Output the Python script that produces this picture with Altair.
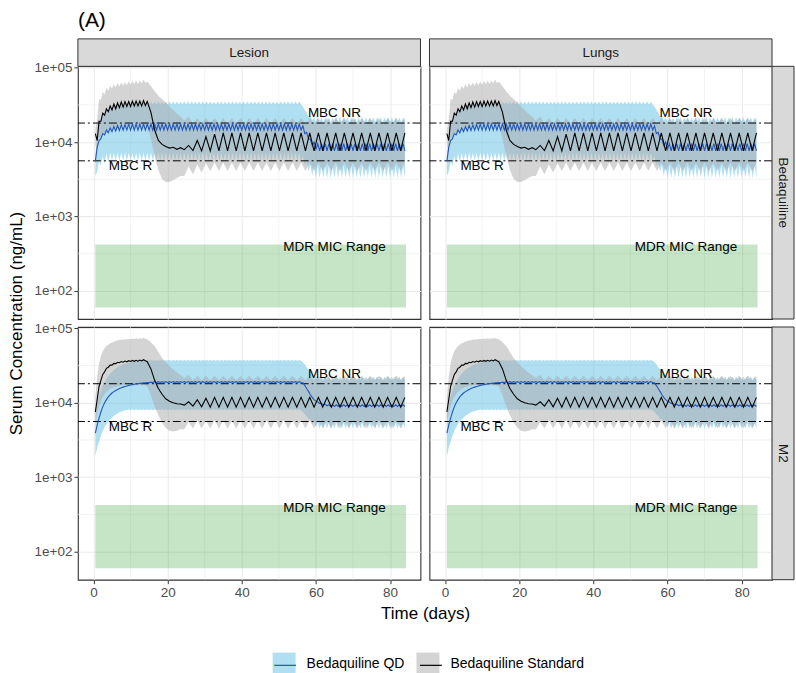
import altair as alt
import pandas as pd

FONT = "Liberation Sans"
REGIMENS = ["Bedaquiline QD", "Bedaquiline Standard"]
LINE_KEYS = ["Bedaquiline QD ", "Bedaquiline Standard "]
COLUMNS = ["Lesion", "Lungs"]
ROWS = ["Bedaquiline", "M2"]

X_TICKS = [0, 20, 40, 60, 80]
X_MINOR = [10, 30, 50, 70]
Y_TICKS = [100, 1000, 10000, 100000]
Y_MINOR = [316.2, 3162, 31623]

MBC_VALUES = [18000, 5600]
ANNOT_LABELS = ["MBC NR", "MBC R", "MDR MIC Range"]
ANNOT_X = [65, 10, 65]
ANNOT_Y = [24600, 4700, 390]
MIC_X = [0.5, 84.3]
MIC_Y = [60, 422]

# ---------------- QD regimen (daily dosing): per-day peak (day-0.5) and trough (day) ----------------
QD_DAYS = list(range(1, 85))

TOP_QD_MED_PK = [
    5500, 10500, 13000, 14500, 15500, 16200, 16700, 17000, 17200, 17400, 17500, 17500, 17500, 17500,
    17500, 17500, 17500, 17500, 17500, 17500, 17500, 17500, 17500, 17500, 17500, 17500, 17500, 17500,
    17500, 17500, 17500, 17500, 17500, 17500, 17500, 17500, 17500, 17500, 17500, 17500, 17500, 17500,
    17500, 17500, 17500, 17500, 17500, 17500, 17500, 17500, 17500, 17500, 17500, 17500, 17500, 17500,
    16500, 13500, 11000, 10000, 9500, 9500, 9500, 9500, 9500, 9500, 9500, 9500, 9500, 9500,
    9500, 9500, 9500, 9500, 9500, 9500, 9500, 9500, 9500, 9500, 9500, 9500, 9500, 9500,
]
TOP_QD_MED_TR = [
    8500, 11000, 12500, 13300, 13800, 14100, 14300, 14400, 14500, 14500, 14500, 14500, 14500, 14500,
    14500, 14500, 14500, 14500, 14500, 14500, 14500, 14500, 14500, 14500, 14500, 14500, 14500, 14500,
    14500, 14500, 14500, 14500, 14500, 14500, 14500, 14500, 14500, 14500, 14500, 14500, 14500, 14500,
    14500, 14500, 14500, 14500, 14500, 14500, 14500, 14500, 14500, 14500, 14500, 14500, 14500, 14500,
    13000, 11000, 9000, 8000, 7600, 7600, 7600, 7600, 7600, 7600, 7600, 7600, 7600, 7600,
    7600, 7600, 7600, 7600, 7600, 7600, 7600, 7600, 7600, 7600, 7600, 7600, 7600, 7600,
]
TOP_QD_HI_PK = [
    7000, 20000, 25000, 28000, 30000, 32000, 33500, 34500, 35000, 35000, 35000, 35000, 35000, 35000,
    35000, 35000, 35000, 35000, 35000, 35000, 35000, 35000, 35000, 35000, 35000, 35000, 35000, 35000,
    35000, 35000, 35000, 35000, 35000, 35000, 35000, 35000, 35000, 35000, 35000, 35000, 35000, 35000,
    35000, 35000, 35000, 35000, 35000, 35000, 35000, 35000, 35000, 35000, 35000, 35000, 35000, 35000,
    30000, 25000, 22500, 21500, 21500, 21500, 21500, 21500, 21500, 21500, 21500, 21500, 21500, 21500,
    21500, 21500, 21500, 21500, 21500, 21500, 21500, 21500, 21500, 21500, 21500, 21500, 21500, 21500,
]
TOP_QD_HI_TR = [
    11000, 19000, 23500, 26500, 28500, 30000, 31000, 31500, 32000, 32000, 32000, 32000, 32000, 32000,
    32000, 32000, 32000, 32000, 32000, 32000, 32000, 32000, 32000, 32000, 32000, 32000, 32000, 32000,
    32000, 32000, 32000, 32000, 32000, 32000, 32000, 32000, 32000, 32000, 32000, 32000, 32000, 32000,
    32000, 32000, 32000, 32000, 32000, 32000, 32000, 32000, 32000, 32000, 32000, 32000, 32000, 32000,
    27000, 22000, 19500, 18500, 18500, 18500, 18500, 18500, 18500, 18500, 18500, 18500, 18500, 18500,
    18500, 18500, 18500, 18500, 18500, 18500, 18500, 18500, 18500, 18500, 18500, 18500, 18500, 18500,
]
TOP_QD_LO_PK = [
    3500, 5500, 6500, 7000, 7200, 7200, 7200, 7200, 7200, 7200, 7200, 7200, 7200, 7200,
    7200, 7200, 7200, 7200, 7200, 7200, 7200, 7200, 7200, 7200, 7200, 7200, 7200, 7200,
    7200, 7200, 7200, 7200, 7200, 7200, 7200, 7200, 7200, 7200, 7200, 7200, 7200, 7200,
    7200, 7200, 7200, 7200, 7200, 7200, 7200, 7200, 7200, 7200, 7200, 7200, 7200, 7200,
    6500, 5500, 5000, 4800, 4800, 4800, 4800, 4800, 4800, 4800, 4800, 4800, 4800, 4800,
    4800, 4800, 4800, 4800, 4800, 4800, 4800, 4800, 4800, 4800, 4800, 4800, 4800, 4800,
]
TOP_QD_LO_TR = [
    4000, 4800, 5200, 5400, 5600, 5600, 5600, 5600, 5600, 5600, 5600, 5600, 5600, 5600,
    5600, 5600, 5600, 5600, 5600, 5600, 5600, 5600, 5600, 5600, 5600, 5600, 5600, 5600,
    5600, 5600, 5600, 5600, 5600, 5600, 5600, 5600, 5600, 5600, 5600, 5600, 5600, 5600,
    5600, 5600, 5600, 5600, 5600, 5600, 5600, 5600, 5600, 5600, 5600, 5600, 5600, 5600,
    4800, 4000, 3500, 3300, 3300, 3300, 3300, 3300, 3300, 3300, 3300, 3300, 3300, 3300,
    3300, 3300, 3300, 3300, 3300, 3300, 3300, 3300, 3300, 3300, 3300, 3300, 3300, 3300,
]

M2_QD_MED_PK = [
    3900, 6200, 8800, 11000, 12800, 14100, 15100, 15900, 16500, 17100, 17500, 17900, 18200, 18500,
    18700, 18900, 19200, 19200, 19200, 19200, 19200, 19200, 19200, 19200, 19200, 19200, 19200, 19200,
    19200, 19200, 19200, 19200, 19200, 19200, 19200, 19200, 19200, 19200, 19200, 19200, 19200, 19200,
    19200, 19200, 19200, 19200, 19200, 19200, 19200, 19200, 19200, 19200, 19200, 19200, 19200, 19200,
    18500, 15500, 12800, 11000, 10200, 9800, 9600, 9400, 9400, 9400, 9400, 9400, 9400, 9400,
    9400, 9400, 9400, 9400, 9400, 9400, 9400, 9400, 9400, 9400, 9400, 9400, 9400, 9400,
]
M2_QD_MED_TR = [
    5000, 7500, 10000, 12000, 13500, 14600, 15500, 16200, 16800, 17300, 17700, 18000, 18300, 18500,
    18600, 18700, 18700, 18700, 18700, 18700, 18700, 18700, 18700, 18700, 18700, 18700, 18700, 18700,
    18700, 18700, 18700, 18700, 18700, 18700, 18700, 18700, 18700, 18700, 18700, 18700, 18700, 18700,
    18700, 18700, 18700, 18700, 18700, 18700, 18700, 18700, 18700, 18700, 18700, 18700, 18700, 18700,
    17000, 14200, 11800, 10500, 9800, 9300, 9100, 8900, 8900, 8900, 8900, 8900, 8900, 8900,
    8900, 8900, 8900, 8900, 8900, 8900, 8900, 8900, 8900, 8900, 8900, 8900, 8900, 8900,
]
M2_QD_HI_PK = [
    7000, 12000, 17000, 21000, 24500, 27500, 30000, 32000, 33500, 34500, 35500, 36200, 36800, 37500,
    37500, 37500, 37500, 37500, 37500, 37500, 37500, 37500, 37500, 37500, 37500, 37500, 37500, 37500,
    37500, 37500, 37500, 37500, 37500, 37500, 37500, 37500, 37500, 37500, 37500, 37500, 37500, 37500,
    37500, 37500, 37500, 37500, 37500, 37500, 37500, 37500, 37500, 37500, 37500, 37500, 37500, 37500,
    35000, 30000, 26000, 23500, 22500, 22500, 22500, 22500, 22500, 22500, 22500, 22500, 22500, 22500,
    22500, 22500, 22500, 22500, 22500, 22500, 22500, 22500, 22500, 22500, 22500, 22500, 22500, 22500,
]
M2_QD_HI_TR = [
    9500, 14500, 19000, 23000, 26000, 29000, 31000, 33000, 34000, 35000, 35800, 36300, 36500, 36500,
    36500, 36500, 36500, 36500, 36500, 36500, 36500, 36500, 36500, 36500, 36500, 36500, 36500, 36500,
    36500, 36500, 36500, 36500, 36500, 36500, 36500, 36500, 36500, 36500, 36500, 36500, 36500, 36500,
    36500, 36500, 36500, 36500, 36500, 36500, 36500, 36500, 36500, 36500, 36500, 36500, 36500, 36500,
    33000, 28000, 24500, 22000, 20500, 20000, 20000, 20000, 20000, 20000, 20000, 20000, 20000, 20000,
    20000, 20000, 20000, 20000, 20000, 20000, 20000, 20000, 20000, 20000, 20000, 20000, 20000, 20000,
]
M2_QD_LO_PK = [
    1900, 3000, 4200, 5200, 6000, 6700, 7200, 7600, 7900, 8200, 8200, 8200, 8200, 8200,
    8200, 8200, 8200, 8200, 8200, 8200, 8200, 8200, 8200, 8200, 8200, 8200, 8200, 8200,
    8200, 8200, 8200, 8200, 8200, 8200, 8200, 8200, 8200, 8200, 8200, 8200, 8200, 8200,
    8200, 8200, 8200, 8200, 8200, 8200, 8200, 8200, 8200, 8200, 8200, 8200, 8200, 8200,
    7500, 6600, 6000, 5600, 5400, 5400, 5400, 5400, 5400, 5400, 5400, 5400, 5400, 5400,
    5400, 5400, 5400, 5400, 5400, 5400, 5400, 5400, 5400, 5400, 5400, 5400, 5400, 5400,
]
M2_QD_LO_TR = [
    2500, 3600, 4700, 5600, 6300, 6900, 7400, 7700, 7900, 7900, 7900, 7900, 7900, 7900,
    7900, 7900, 7900, 7900, 7900, 7900, 7900, 7900, 7900, 7900, 7900, 7900, 7900, 7900,
    7900, 7900, 7900, 7900, 7900, 7900, 7900, 7900, 7900, 7900, 7900, 7900, 7900, 7900,
    7900, 7900, 7900, 7900, 7900, 7900, 7900, 7900, 7900, 7900, 7900, 7900, 7900, 7900,
    7000, 6000, 5200, 4700, 4500, 4500, 4500, 4500, 4500, 4500, 4500, 4500, 4500, 4500,
    4500, 4500, 4500, 4500, 4500, 4500, 4500, 4500, 4500, 4500, 4500, 4500, 4500, 4500,
]

# ---------------- Standard regimen: loading (daily, days 0.5-14.5), wash-out, then three times weekly ----------------
STD_T = ([0.5 * i for i in range(1, 30)]
         + [15.5 + i for i in range(9)]
         + [24.5 + k * 7 / 6 for k in range(52)])

TOP_STD_MED = [
    13000, 10500, 19000, 19000, 24500, 23000, 28000, 25500, 30500, 27000, 32500, 28000, 33500, 29000, 34500,
    29500, 35000, 30000, 35000, 30000, 35500, 30500, 35500, 30500, 35500, 30500, 36000, 31000, 35000,
    25000, 14500, 10500, 9300, 8700, 8300, 8500, 8000, 8400,
    7900, 9000, 7700, 10500, 7600, 11800, 7600, 12800, 7600, 13300,
    7600, 13300, 7600, 13300, 7600, 13300, 7600, 13300, 7600, 13300, 7600, 13300, 7600, 13300,
    7600, 13300, 7600, 13300, 7600, 13300, 7600, 13300, 7600, 13300, 7600, 13300, 7600, 13300,
    7600, 13300, 7600, 13300, 7600, 13300, 7600, 13300, 7600, 13300, 7600, 13300, 7600, 13300,
]
TOP_STD_HI = [
    15000, 20000, 38000, 37000, 47000, 44000, 53000, 49000, 57000, 52000, 60000, 54000, 62000, 56000, 63000,
    57000, 64000, 58000, 65000, 59000, 66000, 60000, 67000, 60000, 67000, 61000, 69000, 62000, 65000,
    56000, 48000, 42000, 38000, 34000, 30000, 27000, 24000, 22000,
    19500, 22000,
    17500, 21000, 17500, 21000, 17500, 21000, 17500, 21000, 17500, 21000, 17500, 21000, 17500, 21000,
    17500, 21000, 17500, 21000, 17500, 21000, 17500, 21000, 17500, 21000, 17500, 21000, 17500, 21000,
    17500, 21000, 17500, 21000, 17500, 21000, 17500, 21000, 17500, 21000, 17500, 21000, 17500, 21000,
    17500, 21000, 17500, 21000, 17500, 21000, 17500, 21000,
]
TOP_STD_LO = [
    9000, 7500, 11500, 11000, 13500, 12500, 15000, 13500, 16000, 14500, 17000, 15000, 17500, 15500, 18000,
    15500, 18000, 16000, 18000, 16000, 18000, 16000, 18000, 16000, 18000, 16000, 18000, 16000, 17500,
    11000, 6500, 4200, 3200, 2900, 2900, 3100, 3300, 3500,
    3500, 4700, 3700, 5000, 3900, 5200,
    4100, 5300, 4100, 5300, 4100, 5300, 4100, 5300, 4100, 5300, 4100, 5300, 4100, 5300,
    4100, 5300, 4100, 5300, 4100, 5300, 4100, 5300, 4100, 5300, 4100, 5300, 4100, 5300,
    4100, 5300, 4100, 5300, 4100, 5300, 4100, 5300, 4100, 5300, 4100, 5300, 4100, 5300,
    4100, 5300, 4100, 5300,
]

M2_STD_MED = [
    7500, 11000, 16500, 20000, 24000, 26000, 29000, 30000, 32000, 32000, 33800, 33500, 35000, 34500, 35800,
    35000, 36300, 35500, 36700, 35800, 37000, 36000, 37200, 36200, 37400, 36400, 37800, 36600, 35500,
    28500, 20000, 15500, 13000, 11300, 10500, 10000, 9700, 9600,
    9300, 10300, 9000, 11000, 8800, 11500,
    8700, 11800, 8700, 11800, 8700, 11800, 8700, 11800, 8700, 11800, 8700, 11800, 8700, 11800,
    8700, 11800, 8700, 11800, 8700, 11800, 8700, 11800, 8700, 11800, 8700, 11800, 8700, 11800,
    8700, 11800, 8700, 11800, 8700, 11800, 8700, 11800, 8700, 11800, 8700, 11800, 8700, 11800,
    8700, 11800, 8700, 11800,
]
M2_STD_HI = [
    12000, 22000, 34000, 42000, 49000, 54000, 58000, 60000, 63000, 64000, 66500, 67000, 69000, 69000, 70500,
    70000, 71500, 71000, 72500, 71500, 73000, 72000, 73500, 72000, 73500, 72500, 74000, 72500, 71000,
    65000, 58000, 48000, 40000, 35000, 31000, 28000, 25500, 23500,
    21500, 23500,
    20000, 23000, 20000, 23000, 20000, 23000, 20000, 23000, 20000, 23000, 20000, 23000, 20000, 23000,
    20000, 23000, 20000, 23000, 20000, 23000, 20000, 23000, 20000, 23000, 20000, 23000, 20000, 23000,
    20000, 23000, 20000, 23000, 20000, 23000, 20000, 23000, 20000, 23000, 20000, 23000, 20000, 23000,
    20000, 23000, 20000, 23000, 20000, 23000, 20000, 23000,
]
M2_STD_LO = [
    5500, 7000, 9000, 10500, 12000, 13000, 14000, 14500, 15500, 15500, 16500, 16000, 17000, 16500, 17500,
    17000, 17500, 17000, 17500, 17000, 17500, 17000, 17500, 17000, 17500, 17000, 17500, 17000, 16500,
    12500, 9000, 6800, 5400, 4600, 4200, 4100, 4200, 4400,
    4400, 5500,
    4500, 5800, 4500, 5800, 4500, 5800, 4500, 5800, 4500, 5800, 4500, 5800, 4500, 5800,
    4500, 5800, 4500, 5800, 4500, 5800, 4500, 5800, 4500, 5800, 4500, 5800, 4500, 5800,
    4500, 5800, 4500, 5800, 4500, 5800, 4500, 5800, 4500, 5800, 4500, 5800, 4500, 5800,
    4500, 5800, 4500, 5800, 4500, 5800, 4500, 5800,
]

for lst in [TOP_QD_MED_PK, TOP_QD_MED_TR, TOP_QD_HI_PK, TOP_QD_HI_TR, TOP_QD_LO_PK, TOP_QD_LO_TR,
            M2_QD_MED_PK, M2_QD_MED_TR, M2_QD_HI_PK, M2_QD_HI_TR, M2_QD_LO_PK, M2_QD_LO_TR]:
    assert len(lst) == 84, len(lst)
for lst in [TOP_STD_MED, TOP_STD_HI, TOP_STD_LO, M2_STD_MED, M2_STD_HI, M2_STD_LO]:
    assert len(lst) == len(STD_T), (len(lst), len(STD_T))


def qd_frame(pk_med, tr_med, pk_lo, tr_lo, pk_hi, tr_hi):
    rows = []
    for i, d in enumerate(QD_DAYS):
        rows.append((d - 0.5, pk_med[i], pk_lo[i], pk_hi[i]))
        rows.append((float(d), tr_med[i], tr_lo[i], tr_hi[i]))
    df = pd.DataFrame(rows, columns=["t", "med", "lo", "hi"])
    df["regimen"] = REGIMENS[0]
    df["line"] = LINE_KEYS[0]
    return df


def std_frame(med, lo, hi):
    df = pd.DataFrame({"t": STD_T, "med": med, "lo": lo, "hi": hi})
    df["regimen"] = REGIMENS[1]
    df["line"] = LINE_KEYS[1]
    return df


QD_DATA = {
    "Bedaquiline": qd_frame(TOP_QD_MED_PK, TOP_QD_MED_TR, TOP_QD_LO_PK, TOP_QD_LO_TR, TOP_QD_HI_PK, TOP_QD_HI_TR),
    "M2": qd_frame(M2_QD_MED_PK, M2_QD_MED_TR, M2_QD_LO_PK, M2_QD_LO_TR, M2_QD_HI_PK, M2_QD_HI_TR),
}
STD_DATA = {
    "Bedaquiline": std_frame(TOP_STD_MED, TOP_STD_LO, TOP_STD_HI),
    "M2": std_frame(M2_STD_MED, M2_STD_LO, M2_STD_HI),
}

# ---------------- styling ----------------
W, H = 343, 253
STRIP_H = 27.5
STRIP_W = 22
BORDER = "#333333"
GRID = "#ebebeb"
LABEL_COLOR = "#4d4d4d"
STRIP_FILL = "#d9d9d9"
BLUE_FILL = "#63bfe5"
GRAY_FILL = "#a9a9a9"
BLUE_LINE = "#2457b8"
GREEN = "#2ca02c"
LEG_X, LEG_Y = 195, 587
KEY_SIZE = 529

XS = alt.Scale(domain=[-4.2, 88.2], nice=False, zero=False)
YS = alt.Scale(type="log", domain=[42, 104000], nice=False)

fill_scale = alt.Scale(domain=REGIMENS, range=[BLUE_FILL, GRAY_FILL])
stroke_scale = alt.Scale(domain=LINE_KEYS, range=[BLUE_LINE, "black"])

fill_legend = alt.Legend(
    title=None, orient="none", legendX=LEG_X, legendY=LEG_Y, direction="horizontal",
    symbolType="square", symbolSize=KEY_SIZE, symbolOpacity=0.5, symbolStrokeWidth=0,
    labelFont=FONT, labelFontSize=14, labelColor="black", labelOffset=11,
    columnPadding=11, zindex=1,
)
stroke_legend = alt.Legend(
    title=None, orient="none", legendX=LEG_X, legendY=LEG_Y, direction="horizontal",
    symbolType="M-0.95,0H0.95", symbolSize=KEY_SIZE, symbolStrokeWidth=1.2,
    labelFont=FONT, labelFontSize=14, labelOffset=11,
    labelExpr="''", columnPadding=109, zindex=2,
)


def x_axis(bottom, with_title):
    if not bottom:
        return alt.Axis(values=X_TICKS, labels=False, ticks=False, domain=False, title=None,
                        grid=True, gridColor=GRID, gridWidth=1.1)
    kw = dict(values=X_TICKS, labels=True, ticks=True, tickSize=4, tickColor=BORDER, tickWidth=1,
              domain=False, grid=True, gridColor=GRID, gridWidth=1.1, format="d",
              labelFont=FONT, labelFontSize=13.5, labelColor=LABEL_COLOR, labelPadding=2)
    if with_title:
        kw.update(title="Time (days)", titleX=347.6, titleY=26, titleAlign="center",
                  titleBaseline="top", titleFont=FONT, titleFontSize=17,
                  titleFontWeight="normal", titleColor="black")
    else:
        kw.update(title=None)
    return alt.Axis(**kw)


def y_axis(left, with_title):
    if not left:
        return alt.Axis(values=Y_TICKS, labels=False, ticks=False, domain=False, title=None,
                        grid=True, gridColor=GRID, gridWidth=1.1)
    kw = dict(values=Y_TICKS, labels=True, ticks=True, tickSize=4, tickColor=BORDER, tickWidth=1,
              domain=False, grid=True, gridColor=GRID, gridWidth=1.1,
              labelExpr="'1e+0' + round(log(datum.value) / LN10)",
              labelFont=FONT, labelFontSize=13.5, labelColor=LABEL_COLOR, labelPadding=2)
    if with_title:
        kw.update(title="Serum Concentration (ng/mL)", titleX=-52, titleY=257, titleAngle=270,
                  titleAlign="center", titleBaseline="bottom", titleFont=FONT, titleFontSize=17,
                  titleFontWeight="normal", titleColor="black")
    else:
        kw.update(title=None)
    return alt.Axis(**kw)


def panel(row_i, col_i):
    row_name = ROWS[row_i]
    col_name = COLUMNS[col_i]
    left = col_i == 0
    bottom = row_i == 1
    xa = x_axis(bottom, bottom and left)
    ya = y_axis(left, left and row_i == 0)

    def X(f):
        return alt.X(f, type="quantitative", scale=XS, axis=xa)

    def Y(f):
        return alt.Y(f, type="quantitative", scale=YS, axis=ya)

    qd = QD_DATA[row_name]
    std = STD_DATA[row_name]

    layers = []
    layers.append(alt.Chart(pd.DataFrame({"xv": X_MINOR})).mark_rule(color=GRID, strokeWidth=0.6)
                  .encode(x=X("xv")))
    layers.append(alt.Chart(pd.DataFrame({"yv": Y_MINOR})).mark_rule(color=GRID, strokeWidth=0.6)
                  .encode(y=Y("yv")))
    mic = pd.DataFrame({"x1": [MIC_X[0]], "x2": [MIC_X[1]], "y1": [MIC_Y[0]], "y2": [MIC_Y[1]]})
    layers.append(alt.Chart(mic).mark_rect(color=GREEN, opacity=0.27)
                  .encode(x=X("x1"), x2="x2", y=Y("y1"), y2="y2"))
    layers.append(alt.Chart(qd).mark_area(opacity=0.5)
                  .encode(x=X("t"), y=Y("lo"), y2="hi",
                          fill=alt.Fill("regimen:N", scale=fill_scale, legend=fill_legend)))
    layers.append(alt.Chart(std).mark_area(opacity=0.5)
                  .encode(x=X("t"), y=Y("lo"), y2="hi",
                          fill=alt.Fill("regimen:N", scale=fill_scale, legend=fill_legend)))
    layers.append(alt.Chart(pd.DataFrame({"mbc": MBC_VALUES}))
                  .mark_rule(color="black", strokeWidth=1, strokeDash=[8, 3, 2, 3])
                  .encode(y=Y("mbc")))
    layers.append(alt.Chart(qd).mark_line(strokeWidth=1.1)
                  .encode(x=X("t"), y=Y("med"),
                          stroke=alt.Stroke("line:N", scale=stroke_scale, legend=stroke_legend)))
    layers.append(alt.Chart(std).mark_line(strokeWidth=1.1)
                  .encode(x=X("t"), y=Y("med"),
                          stroke=alt.Stroke("line:N", scale=stroke_scale, legend=stroke_legend)))
    ann = pd.DataFrame({"ax": ANNOT_X, "ay": ANNOT_Y, "label": ANNOT_LABELS})
    layers.append(alt.Chart(ann).mark_text(font=FONT, fontSize=13.5, color="black")
                  .encode(x=X("ax"), y=Y("ay"), text="label:N"))

    # facet strips (decoration)
    if row_i == 0:
        s = pd.DataFrame({"lab": [col_name]})
        layers.append(alt.Chart(s).mark_rect(fill=STRIP_FILL, stroke=BORDER, strokeWidth=1)
                      .encode(x=alt.value(0), x2=alt.value(W), y=alt.value(-STRIP_H), y2=alt.value(0)))
        layers.append(alt.Chart(s).mark_text(font=FONT, fontSize=13.5, color="#1a1a1a")
                      .encode(x=alt.value(W / 2), y=alt.value(-STRIP_H / 2), text="lab:N"))
    if col_i == 1:
        s = pd.DataFrame({"lab": [row_name]})
        layers.append(alt.Chart(s).mark_rect(fill=STRIP_FILL, stroke=BORDER, strokeWidth=1)
                      .encode(x=alt.value(W), x2=alt.value(W + STRIP_W), y=alt.value(0), y2=alt.value(H)))
        layers.append(alt.Chart(s).mark_text(font=FONT, fontSize=13.5, color="#1a1a1a", angle=90)
                      .encode(x=alt.value(W + STRIP_W / 2), y=alt.value(H / 2), text="lab:N"))
    if row_i == 0 and col_i == 0:
        s = pd.DataFrame({"lab": ["(A)"]})
        layers.append(alt.Chart(s).mark_text(font=FONT, fontSize=21, color="black", align="left")
                      .encode(x=alt.value(0), y=alt.value(-45), text="lab:N"))

    return alt.layer(*layers).properties(width=W, height=H)


chart = alt.concat(
    panel(0, 0), panel(0, 1), panel(1, 0), panel(1, 1),
    columns=2, spacing={"row": 8, "column": 9}, bounds="flush",
).resolve_scale(
    fill="shared", stroke="shared"
).properties(
    padding={"left": 7, "top": 9, "right": 0, "bottom": 0},
    background="white",
).configure(
    font=FONT
).configure_view(
    stroke=BORDER, strokeWidth=1.1
)

chart.save("out.html", embed_options={"renderer": "svg", "actions": False})
